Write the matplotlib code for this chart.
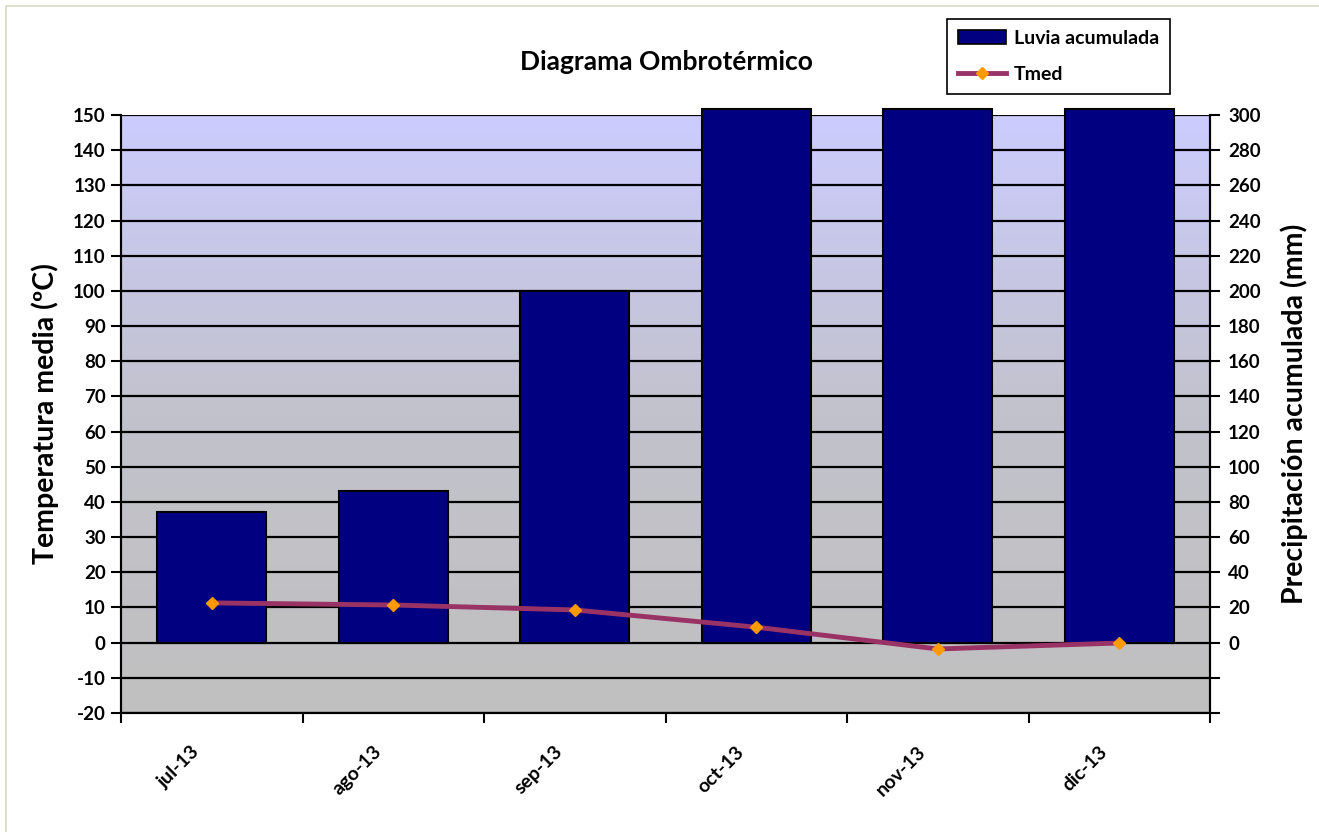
import numpy as np
import matplotlib.pyplot as plt
from matplotlib.colors import LinearSegmentedColormap
from matplotlib.lines import Line2D
from matplotlib.patches import Patch, Rectangle

plt.rcParams['font.family'] = ['Lato', 'DejaVu Sans']
plt.rcParams['font.weight'] = 'bold'
plt.rcParams['axes.labelweight'] = 'bold'

months = ['jul-13', 'ago-13', 'sep-13', 'oct-13', 'nov-13', 'dic-13']
rain = np.array([74, 86, 200, 340, 360, 330])   # mm, last three go off the scale
tmed = np.array([11.3, 10.7, 9.3, 4.4, -1.8, -0.1])

temp_ticks = np.arange(-20, 151, 10)
rain_ticks = np.arange(-40, 301, 20)

fig = plt.figure(figsize=(13.19, 8.32), dpi=100)
# light frame around the chart
fig.patches.append(Rectangle((6 / 1319, -0.01), 1.02, 1 - 6 / 832 + 0.01,
                             transform=fig.transFigure, fill=False,
                             edgecolor='#d9d9c6', linewidth=1.2))

ax_p = fig.add_axes([121 / 1319, 1 - 713 / 832, (1210 - 121) / 1319, (713 - 115) / 832])
ax_t = ax_p.twinx()
ax_t.yaxis.tick_left()
ax_t.yaxis.set_label_position('left')
ax_p.yaxis.tick_right()
ax_p.yaxis.set_label_position('right')
ax_t.set_zorder(ax_p.get_zorder() + 1)
ax_t.patch.set_visible(False)

# gradient background
cmap = LinearSegmentedColormap.from_list('bg', ['#c0c0c0', '#c2c2cc', '#ccccff'])
grad = np.linspace(0, 1, 256).reshape(-1, 1)
ax_p.imshow(grad, extent=[0, 1, 0, 1], transform=ax_p.transAxes, origin='lower',
            aspect='auto', cmap=cmap, zorder=0)

x = np.arange(len(months))
for yv in rain_ticks:
    ax_p.axhline(yv, color='black', linewidth=1.6, zorder=1)

ax_p.bar(x, np.minimum(rain, 303.5), width=0.6, color='#000080', edgecolor='black',
         linewidth=1.5, zorder=3, clip_on=False)

ax_t.plot(x, tmed, color='#993366', linewidth=3.5, marker='D', markersize=6,
          markerfacecolor='#ff9900', markeredgecolor='#ff9900', zorder=5)

ax_p.set_xlim(-0.5, len(months) - 0.5)
ax_p.set_ylim(-40, 300)
ax_t.set_ylim(-20, 150)

ax_t.set_yticks(temp_ticks)
ax_t.set_yticklabels([str(v) for v in temp_ticks], fontweight='bold')
ax_p.set_yticks(rain_ticks)
ax_p.set_yticklabels([str(v) if v >= 0 else '' for v in rain_ticks], fontweight='bold')

# month labels, rotated and set a little left of the category centre
ax_p.set_xticks(x)
ax_p.set_xticklabels([])
for i, m in enumerate(months):
    ax_p.annotate(m, xy=(x[i], 0), xycoords=ax_p.get_xaxis_transform(),
                  xytext=(-15, -21.5), textcoords='offset points', rotation=45,
                  ha='right', va='top', rotation_mode='anchor',
                  fontsize=14, fontweight='bold', annotation_clip=False)
ax_p.set_xticks(np.arange(-0.5, len(months), 1), minor=True)
ax_p.tick_params(axis='x', which='major', length=0)
ax_p.tick_params(axis='x', which='minor', length=7, width=1.5, direction='out')
ax_p.tick_params(axis='y', labelsize=13.5, length=7, width=1.5, direction='out', pad=6)
ax_t.tick_params(axis='y', labelsize=13.5, length=7, width=1.5, direction='out', pad=4)

for a in (ax_p, ax_t):
    for s in a.spines.values():
        s.set_linewidth(1.5)
        s.set_color('black')
    a.spines['top'].set_visible(False)

ax_t.set_ylabel('Temperatura media (ºC)', fontsize=20.5, fontweight='bold', labelpad=10)
ax_p.set_ylabel('Precipitación acumulada (mm)', fontsize=20.5, fontweight='bold', labelpad=14)

fig.text(0.505, 0.925, 'Diagrama Ombrotérmico', ha='center', va='center',
         fontsize=19, fontweight='bold')

handles = [Patch(facecolor='#000080', edgecolor='black', linewidth=1.2),
           Line2D([0], [0], color='#993366', linewidth=3.5, marker='D', markersize=6,
                  markerfacecolor='#ff9900', markeredgecolor='#ff9900')]
leg = fig.legend(handles, ['Luvia acumulada', 'Tmed'], loc='upper left',
                 bbox_to_anchor=(947 / 1319, 1 - 19 / 832), borderaxespad=0,
                 frameon=True, fancybox=False, edgecolor='black', framealpha=1,
                 borderpad=0.55, handlelength=2.5, handletextpad=0.4, labelspacing=1.0,
                 prop={'weight': 'bold', 'size': 14})
leg.get_frame().set_linewidth(1.2)

fig.savefig('out.png', dpi=100)
